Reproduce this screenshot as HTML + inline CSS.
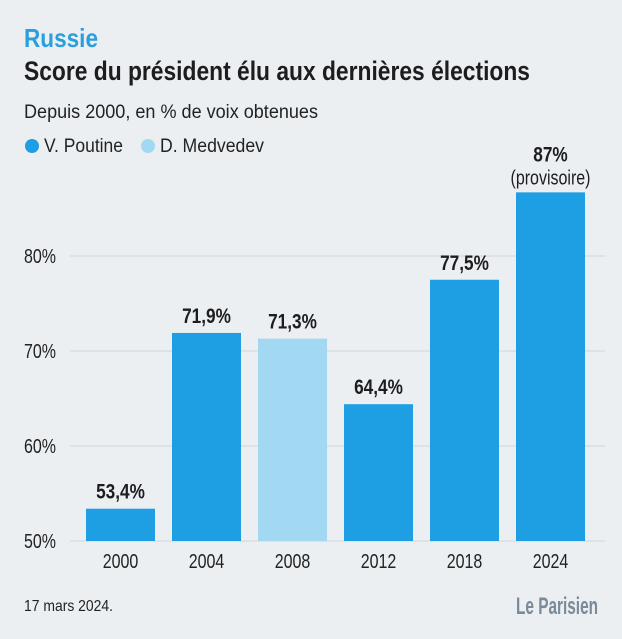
<!DOCTYPE html>
<html><head><meta charset="utf-8"><style>
html,body{margin:0;padding:0;background:#eceff2;}
svg{display:block;font-family:"Liberation Sans Narrow","Liberation Sans",sans-serif;}
</style></head><body>
<svg id="c" width="622" height="639" viewBox="0 0 622 639">
<rect width="622" height="639" fill="#eceff2"/>
<text x="24" y="47" font-size="26" font-weight="bold" fill="#2a9fdc" textLength="74" lengthAdjust="spacingAndGlyphs">Russie</text>
<text x="24" y="80" font-size="27" font-weight="bold" fill="#1d1d1f" textLength="506" lengthAdjust="spacingAndGlyphs">Score du président élu aux dernières élections</text>
<text x="24" y="118" font-size="19" fill="#222" textLength="294" lengthAdjust="spacingAndGlyphs">Depuis 2000, en % de voix obtenues</text>
<circle cx="32" cy="146" r="7" fill="#1f9fe3"/>
<text x="44" y="152" font-size="19" fill="#222" textLength="79" lengthAdjust="spacingAndGlyphs">V. Poutine</text>
<circle cx="148" cy="146" r="7" fill="#a3d8f3"/>
<text x="160" y="152" font-size="19" fill="#222" textLength="104" lengthAdjust="spacingAndGlyphs">D. Medvedev</text>
<g id="grid"></g>
<g id="bars"></g>
<text x="24" y="611" font-size="16" fill="#222" textLength="89" lengthAdjust="spacingAndGlyphs">17 mars 2024.</text>
<text x="598" y="614" font-size="24" font-weight="bold" fill="#7a8a99" text-anchor="end" textLength="82" lengthAdjust="spacingAndGlyphs">Le Parisien</text>
</svg>
<script>
const categories=["2000","2004","2008","2012","2018","2024"];
const values=[53.4,71.9,71.3,64.4,77.5,86.7];
const labels=["53,4 %","71,9 %","71,3 %","64,4 %","77,5 %","87 %"];
const leaders=["poutine","poutine","medvedev","poutine","poutine","poutine"];
const ticks=[50,60,70,80];
const NS="http://www.w3.org/2000/svg";
const y=v=>541-(v-50)*9.5;
const x=i=>86+i*86;
const bw=69;
const grid=document.getElementById('grid'),bars=document.getElementById('bars');
function mk(tag,attrs,parent,txt){const e=document.createElementNS(NS,tag);for(const k in attrs)e.setAttribute(k,attrs[k]);if(txt!=null)e.textContent=txt;parent.appendChild(e);return e;}
function squeeze(e,f){const w=e.getComputedTextLength();e.setAttribute('textLength',(w*f).toFixed(1));e.setAttribute('lengthAdjust','spacingAndGlyphs');}
ticks.forEach(t=>{
  const l=mk('line',{x1:70,x2:605,y1:y(t),y2:y(t),stroke:'#d9dde1','stroke-width':1.5},grid);
  
  
  const tx=mk('text',{x:24,y:y(t)+7,'font-size':20,fill:'#222'},grid,t+'%');
  
  
  squeeze(tx,0.8);
});
categories.forEach((c,i)=>{
  const r=mk('rect',{x:x(i),y:y(values[i]),width:bw,height:y(50)-y(values[i]),fill:leaders[i]==='medvedev'?'#a3d8f3':'#1f9fe3'},bars);
  
  
  const cx=x(i)+bw/2;
  const last=i===categories.length-1;
  const lab=mk('text',{x:cx,y:last?y(values[i])-31:y(values[i])-10,'font-size':21,'font-weight':'bold',fill:'#1d1d1f','text-anchor':'middle'},bars,labels[i].replace(' ',''));
  
  
  squeeze(lab,0.82);
  if(last){
    const p=mk('text',{x:cx,y:y(values[i])-8,'font-size':20,fill:'#1d1d1f','text-anchor':'middle'},bars,'(provisoire)');
    
    
    squeeze(p,0.8);
  }
  const xl=mk('text',{x:cx,y:568,'font-size':20,fill:'#222','text-anchor':'middle'},bars,c);
  
  
  squeeze(xl,0.8);
});
</script>
</body></html>
